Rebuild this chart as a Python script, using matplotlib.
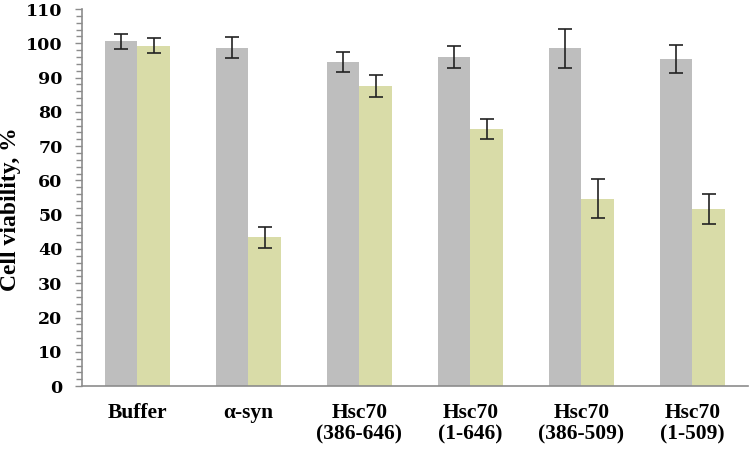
import numpy as np
import matplotlib.pyplot as plt
from matplotlib.ticker import MultipleLocator

categories = ["Buffer", "\u03b1-syn", "Hsc70\n(386-646)", "Hsc70\n(1-646)",
              "Hsc70\n(386-509)", "Hsc70\n(1-509)"]
gray_vals = [100.6, 98.7, 94.6, 95.9, 98.6, 95.4]
gray_err = [2.2, 3.1, 3.0, 3.2, 5.7, 4.2]
green_vals = [99.3, 43.4, 87.5, 75.0, 54.6, 51.6]
green_err = [2.2, 3.1, 3.2, 3.0, 5.7, 4.3]

x = np.arange(len(categories))
w = 0.29

fig = plt.figure(figsize=(7.5, 4.5), dpi=100)
ax = fig.add_axes([0.1093, 0.142, 0.888, 0.838])

ax.bar(x - w/2, gray_vals, w, color='#bebebe')
ax.bar(x + w/2, green_vals, w, color='#d9dca8')
ax.errorbar(x - w/2, gray_vals, yerr=gray_err, fmt='none', ecolor='#222222',
            elinewidth=1.2, capsize=5, capthick=1.2)
ax.errorbar(x + w/2, green_vals, yerr=green_err, fmt='none', ecolor='#222222',
            elinewidth=1.2, capsize=5, capthick=1.2)

ax.set_xlim(-0.5, 5.5)
ax.set_ylim(0, 110)
ax.yaxis.set_major_locator(MultipleLocator(10))
ax.yaxis.set_minor_locator(MultipleLocator(2))

for s in ['top', 'right']:
    ax.spines[s].set_visible(False)
for s in ['left', 'bottom']:
    ax.spines[s].set_color('#8c8c8c')
    ax.spines[s].set_linewidth(1.2)

ax.tick_params(axis='y', which='major', length=5, width=1, color='#8c8c8c', pad=9)
ax.tick_params(axis='y', which='minor', length=4, width=1, color='#8c8c8c')
ax.tick_params(axis='x', length=0, pad=12)

ax.set_xticks(x)
ax.set_xticklabels(categories, fontfamily='Liberation Serif', fontweight='bold',
                   fontsize=15.5, linespacing=1.1)
for lab in ax.get_yticklabels():
    lab.set_fontfamily('DejaVu Serif')
    lab.set_fontweight('bold')
    lab.set_fontsize(12.5)

ax.set_ylabel('Cell viability, %', fontfamily='Liberation Serif', fontweight='bold',
              fontsize=17)
ax.yaxis.set_label_coords(-0.092, 0.47)

fig.savefig('out.png', dpi=100)
